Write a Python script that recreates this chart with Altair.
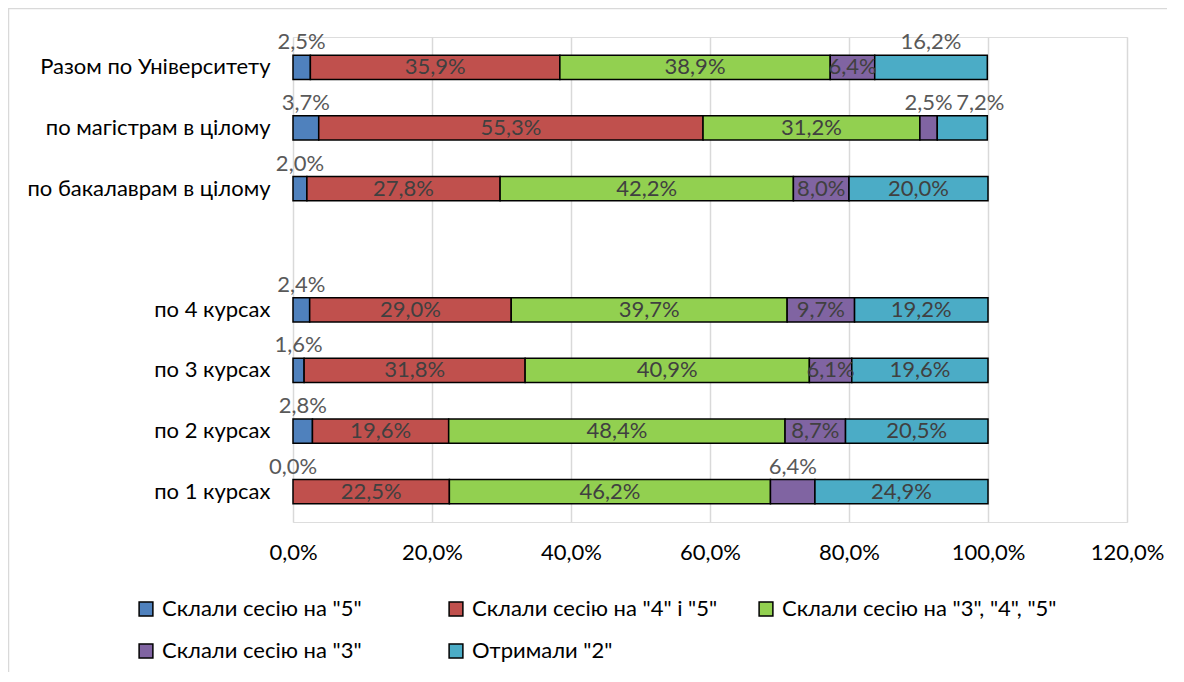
import altair as alt
import pandas as pd

categories = ["Разом по Університету", "по магістрам в цілому", "по бакалаврам в цілому", " ",
              "по 4 курсах", "по 3 курсах", "по 2 курсах", "по 1 курсах"]
series = ['Склали сесію на "5"', 'Склали сесію на "4" і "5"', 'Склали сесію на "3", "4", "5"',
          'Склали сесію на "3"', 'Отримали "2"']
colors = ["#4F81BD", "#C0504D", "#92D050", "#8064A2", "#4BACC6"]

# values per series, in category order (None = blank spacer row)
v5 = [2.5, 3.7, 2.0, None, 2.4, 1.6, 2.8, 0.0]
v45 = [35.9, 55.3, 27.8, None, 29.0, 31.8, 19.6, 22.5]
v345 = [38.9, 31.2, 42.2, None, 39.7, 40.9, 48.4, 46.2]
v3 = [6.4, 2.5, 8.0, None, 9.7, 6.1, 8.7, 6.4]
v2 = [16.2, 7.2, 20.0, None, 19.2, 19.6, 20.5, 24.9]

# labels drawn above the bar instead of inside it (category index, series index)
above = [(0, 0), (0, 4), (1, 0), (1, 3), (1, 4), (2, 0), (4, 0), (5, 0), (6, 0), (7, 0), (7, 3)]
nudged = [(1, 4)]

rows = []
for si, vals in enumerate([v5, v45, v345, v3, v2]):
    for ci, v in enumerate(vals):
        if v is None:
            continue
        rows.append({
            "category": categories[ci],
            "series": series[si],
            "order": si,
            "value": v,
            "pos": "nudge" if (ci, si) in nudged else ("above" if (ci, si) in above else "inside"),
        })
df = pd.DataFrame(rows)

W, H = 834, 485
FONT = "Lato"
FS = 22

y_enc = alt.Y("category:N", sort=categories,
              scale=alt.Scale(domain=categories, paddingInner=0.6, paddingOuter=0.3),
              axis=alt.Axis(title=None, domain=False, ticks=False, labelPadding=23,
                            labelFontSize=FS, labelColor="#000000", labelFont=FONT, labelLimit=400))

base = alt.Chart(df).transform_stack(
    stack="value", groupby=["category"], sort=[alt.SortField("order")], as_=["x0", "x1"]
).transform_calculate(
    mid="(datum.x0 + datum.x1) / 2",
    label="replace(format(datum.value, '.1f'), '.', ',') + '%'"
)

bars = base.transform_filter("datum.value > 0").mark_bar(stroke="#000000", strokeWidth=1.5).encode(
    x=alt.X("x0:Q", scale=alt.Scale(domain=[0, 120], nice=False),
            axis=alt.Axis(title=None, values=[0, 20, 40, 60, 80, 100, 120], domain=False, ticks=False,
                          labelExpr="replace(format(datum.value, '.1f'), '.', ',') + '%'",
                          labelFlush=False, labelOverlap=False,
                          labelFontSize=FS, labelColor="#000000", labelFont=FONT, labelPadding=20,
                          gridColor="#D9D9D9", gridWidth=1.5)),
    x2="x1:Q",
    y=y_enc,
    color=alt.Color("series:N", sort=series,
                    scale=alt.Scale(domain=series, range=colors),
                    legend=alt.Legend(title=None, orient="none", legendX=-158, legendY=561,
                                      direction="horizontal",
                                      columns=3, gridAlign="all", columnPadding=8, rowPadding=20,
                                      symbolType="square", symbolSize=190, symbolStrokeColor="#000000",
                                      symbolStrokeWidth=1.5, symbolOffset=0,
                                      labelFontSize=FS, labelFont=FONT, labelColor="#000000",
                                      labelOffset=5, labelLimit=400, padding=0)),
    order=alt.Order("order:Q"),
)

inside = base.transform_filter("datum.pos == 'inside'").mark_text(
    fontSize=FS, font=FONT, color="#404040", baseline="middle", align="center"
).encode(x="mid:Q", y=alt.Y("category:N", sort=categories), text="label:N")

above_txt = base.transform_filter("datum.pos == 'above'").mark_text(
    fontSize=FS, font=FONT, color="#595959", baseline="middle", align="center", dy=-25
).encode(x="mid:Q", y=alt.Y("category:N", sort=categories), text="label:N")

nudge_txt = base.transform_filter("datum.pos == 'nudge'").mark_text(
    fontSize=FS, font=FONT, color="#595959", baseline="middle", align="center", dy=-25, dx=18
).encode(x="mid:Q", y=alt.Y("category:N", sort=categories), text="label:N")

border = alt.Chart(alt.Data(values=[{}])).mark_rect(
    fill=None, stroke="#D9D9D9", strokeWidth=1.5, clip=False
).encode(x=alt.value(-284.5), x2=alt.value(W + 200), y=alt.value(-28.5), y2=alt.value(H + 300))

chart = alt.layer(border, bars, inside, above_txt, nudge_txt).properties(
    width=W, height=H,
    autosize=alt.AutoSizeParams(type="none"),
    padding={"left": 285, "top": 29, "right": 40, "bottom": 150},
).configure_view(stroke=None).configure(font=FONT, background="#FFFFFF")

chart.save("out.html", embed_options={"renderer": "svg", "actions": False})
